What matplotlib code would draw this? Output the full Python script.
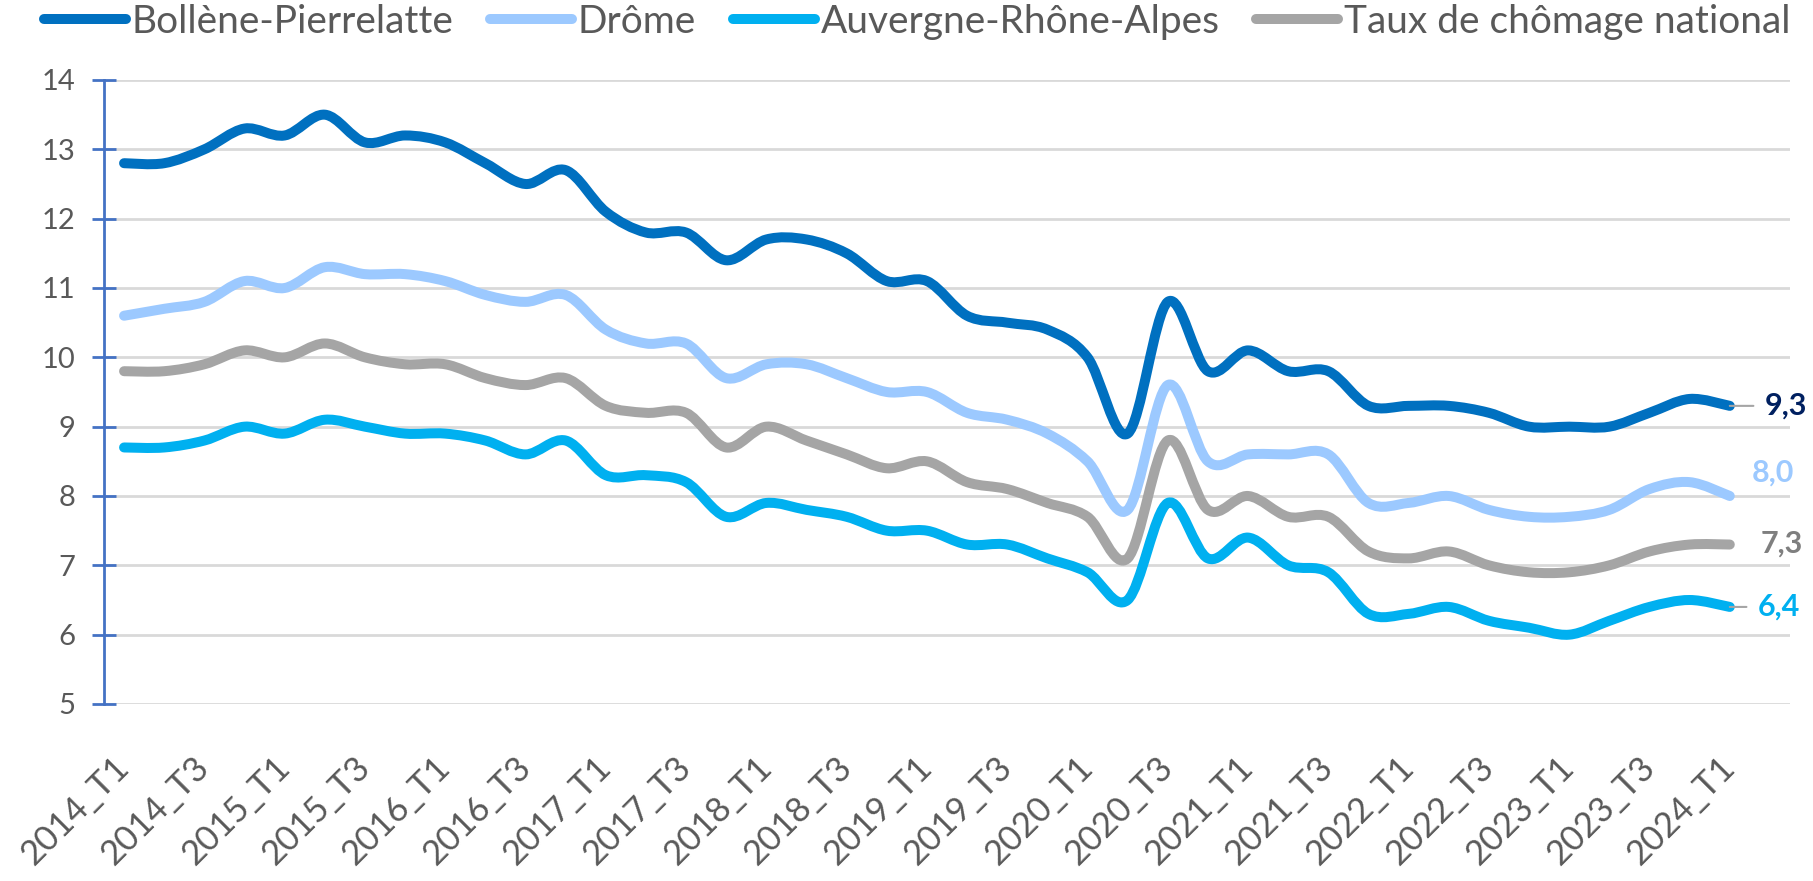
import matplotlib
matplotlib.use("Agg")
import matplotlib.pyplot as plt
from matplotlib.path import Path
from matplotlib.patches import PathPatch
from matplotlib.lines import Line2D

plt.rcParams['font.family'] = ['Lato', 'DejaVu Sans']

# quarters 2014_T1 .. 2024_T1
years = list(range(2014, 2025))
quarters = [f"{y}_T{q}" for y in years for q in (1, 2, 3, 4)][:41]

bollene = [12.8, 12.8, 13.0, 13.3, 13.2, 13.5, 13.1, 13.2, 13.1, 12.8, 12.5, 12.7,
           12.1, 11.8, 11.8, 11.4, 11.7, 11.7, 11.5, 11.1, 11.1, 10.6, 10.5, 10.4,
           10.0, 8.9, 10.8, 9.8, 10.1, 9.8, 9.8, 9.3, 9.3, 9.3, 9.2, 9.0,
           9.0, 9.0, 9.2, 9.4, 9.3]
drome = [10.6, 10.7, 10.8, 11.1, 11.0, 11.3, 11.2, 11.2, 11.1, 10.9, 10.8, 10.9,
         10.4, 10.2, 10.2, 9.7, 9.9, 9.9, 9.7, 9.5, 9.5, 9.2, 9.1, 8.9,
         8.5, 7.8, 9.6, 8.5, 8.6, 8.6, 8.6, 7.9, 7.9, 8.0, 7.8, 7.7,
         7.7, 7.8, 8.1, 8.2, 8.0]
auvergne = [8.7, 8.7, 8.8, 9.0, 8.9, 9.1, 9.0, 8.9, 8.9, 8.8, 8.6, 8.8,
            8.3, 8.3, 8.2, 7.7, 7.9, 7.8, 7.7, 7.5, 7.5, 7.3, 7.3, 7.1,
            6.9, 6.5, 7.9, 7.1, 7.4, 7.0, 6.9, 6.3, 6.3, 6.4, 6.2, 6.1,
            6.0, 6.2, 6.4, 6.5, 6.4]
national = [9.8, 9.8, 9.9, 10.1, 10.0, 10.2, 10.0, 9.9, 9.9, 9.7, 9.6, 9.7,
            9.3, 9.2, 9.2, 8.7, 9.0, 8.8, 8.6, 8.4, 8.5, 8.2, 8.1, 7.9,
            7.7, 7.1, 8.8, 7.8, 8.0, 7.7, 7.7, 7.2, 7.1, 7.2, 7.0, 6.9,
            6.9, 7.0, 7.2, 7.3, 7.3]

names = ["Bollène-Pierrelatte", "Drôme", "Auvergne-Rhône-Alpes", "Taux de chômage national"]
colors = ["#0070C0", "#9CC9FF", "#00B0F0", "#A5A5A5"]
series = [bollene, drome, auvergne, national]


def smooth_path(ys):
    # Excel-like smoothed line: cubic bezier through every point
    xs = list(range(len(ys)))
    n = len(ys)
    verts = [(xs[0], ys[0])]
    codes = [Path.MOVETO]
    for i in range(n - 1):
        a = max(i - 1, 0)
        d = min(i + 2, n - 1)
        c1 = (xs[i] + (xs[i + 1] - xs[a]) / 6, ys[i] + (ys[i + 1] - ys[a]) / 6)
        c2 = (xs[i + 1] - (xs[d] - xs[i]) / 6, ys[i + 1] - (ys[d] - ys[i]) / 6)
        verts += [c1, c2, (xs[i + 1], ys[i + 1])]
        codes += [Path.CURVE4] * 3
    return Path(verts, codes)


fig = plt.figure(figsize=(18.13, 8.81), dpi=100)
ax = fig.add_axes([104 / 1813, 1 - 704 / 881, 1686 / 1813, 624 / 881])

# gray gridlines
for v in range(5, 15):
    ax.axhline(v, color="#D9D9D9", lw=2, zorder=0)

for k in [0, 1, 3, 2]:
    ax.add_patch(PathPatch(smooth_path(series[k]), fill=False, edgecolor=colors[k],
                           lw=7.2, capstyle='round', joinstyle='round', zorder=2))

ax.set_xlim(-0.5, 41.5)
ax.set_ylim(5, 14)

for s in ["top", "right", "bottom"]:
    ax.spines[s].set_visible(False)
ax.spines["left"].set_color("#4472C4")
ax.spines["left"].set_linewidth(2)
ax.set_yticks(range(5, 15))
ax.tick_params(axis="y", direction="inout", length=17, width=2, color="#4472C4",
               labelsize=21, labelcolor="#595959", pad=12)
ax.set_xticks(range(0, 41, 2))
ax.set_xticklabels(quarters[::2], rotation=45, ha="right", va="center",
                   rotation_mode="anchor")
ax.tick_params(axis="x", length=0, labelsize=25, labelcolor="#595959", pad=42)

# end labels
last = len(bollene) - 1
lab = [
    (bollene[-1], "9,3", "#002060", (25, 0), True),
    (drome[-1], "8,0", "#9CC9FF", (16, 17), False),
    (national[-1], "7,3", "#7F7F7F", (22, 1), False),
    (auvergne[-1], "6,4", "#00B0F0", (20, 0), True),
]
for v, t, c, off, leader in lab:
    kw = {}
    if leader:
        kw["arrowprops"] = dict(arrowstyle="-", color="#A5A5A5", lw=1.5,
                                shrinkA=6, shrinkB=0)
    ax.annotate(t, xy=(last, v), xytext=off, textcoords="offset points",
                ha="left", va="center", fontsize=22, fontweight="bold", color=c,
                annotation_clip=False, **kw)

handles = [Line2D([], [], color=c, lw=7.2, solid_capstyle="round") for c in colors]
fig.legend(handles, names, loc="upper left", bbox_to_anchor=(40 / 1813, 1.0),
           ncol=4, frameon=False, fontsize=28, handlelength=2.1,
           handletextpad=0.15, columnspacing=0.95, borderaxespad=0, borderpad=0.1,
           labelcolor="#595959")

fig.savefig("out.png", dpi=100, facecolor="white")
